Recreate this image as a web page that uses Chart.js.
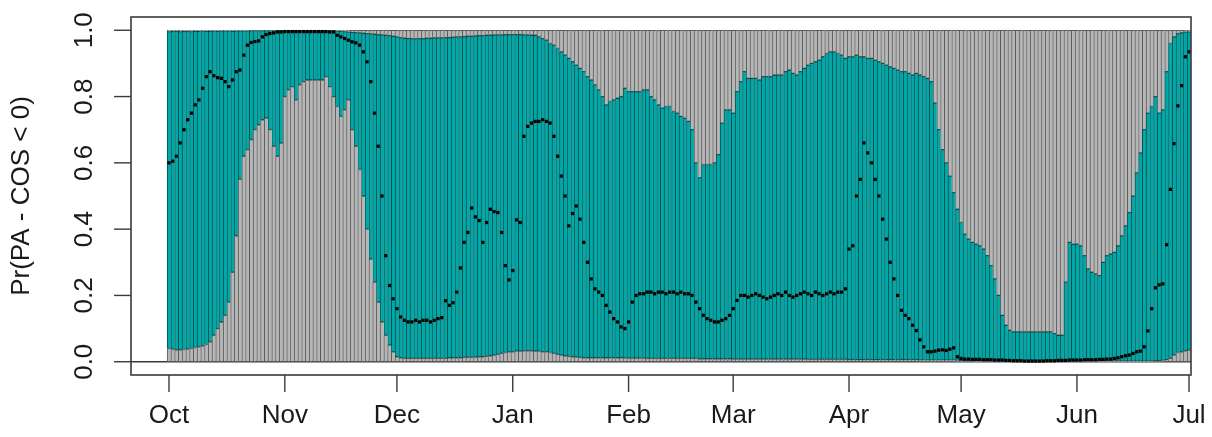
<!DOCTYPE html>
<html>
<head>
<meta charset="utf-8">
<script src="https://cdn.jsdelivr.net/npm/chart.js@4.4.1/dist/chart.umd.min.js"></script>
<style>
html,body{margin:0;padding:0;background:#fff;}
canvas{display:block;}
</style>
</head>
<body>
<canvas id="c" width="1212" height="437"></canvas>
<script>
// ---- data (one value per day, Oct 1 = day 0 ... Jul 1 = day 273) ----
const monthLabels = ['Oct','Nov','Dec','Jan','Feb','Mar','Apr','May','Jun','Jul'];
const monthDays   = [0,31,61,92,123,151,182,212,243,273];
const yTickValues = [0,0.2,0.4,0.6,0.8,1.0];
const yTickLabels = ['0.0','0.2','0.4','0.6','0.8','1.0'];
const yTitle = 'Pr(PA - COS < 0)';

// lower bound of the teal band
const lower = [
0.04,0.038,0.036,0.036,0.037,0.038,0.04,0.043,0.045,0.048,0.052,
0.06,0.08,0.1,0.12,0.14,0.18,0.27,0.38,0.55,0.62,
0.64,0.67,0.7,0.715,0.73,0.735,0.7,0.65,0.62,0.66,
0.8,0.82,0.83,0.79,0.835,0.845,0.85,0.85,0.85,0.85,
0.85,0.86,0.83,0.8,0.77,0.74,0.76,0.79,0.7,0.65,
0.58,0.5,0.4,0.31,0.24,0.18,0.12,0.08,0.05,0.03,
0.015,0.012,0.01,0.01,0.01,0.01,0.01,0.01,0.01,0.01,
0.01,0.01,0.01,0.01,0.012,0.012,0.012,0.012,0.013,0.013,
0.013,0.014,0.015,0.015,0.016,0.018,0.02,0.022,0.025,0.028,
0.03,0.03,0.032,0.032,0.033,0.033,0.033,0.032,0.032,0.03,
0.03,0.028,0.025,0.022,0.02,0.018,0.016,0.015,0.014,0.013,
0.012,0.012,0.012,0.012,0.012,0.012,0.012,0.012,0.012,0.012,
0.012,0.012,0.011,0.011,0.011,0.011,0.011,0.01,0.01,0.01,
0.01,0.01,0.01,0.01,0.01,0.01,0.01,0.01,0.01,0.01,
0.01,0.009,0.009,0.009,0.009,0.009,0.009,0.009,0.009,0.009,
0.008,0.008,0.008,0.008,0.008,0.008,0.008,0.008,0.008,0.008,
0.008,0.008,0.008,0.008,0.008,0.008,0.008,0.008,0.008,0.008,
0.007,0.007,0.007,0.007,0.007,0.007,0.007,0.007,0.007,0.007,
0.007,0.006,0.006,0.006,0.006,0.006,0.006,0.006,0.006,0.006,
0.006,0.006,0.006,0.006,0.006,0.006,0.006,0.006,0.006,0.006,
0.005,0.005,0.005,0.005,0.005,0.005,0.005,0.005,0.005,0.005,
0.004,0.003,0.003,0.003,0.003,0.002,0.002,0.002,0.002,0.002,
0.002,0.002,0.002,0.002,0.002,0.002,0.002,0.002,0.002,0.002,
0.002,0.002,0.002,0.002,0.002,0.002,0.002,0.002,0.002,0.002,
0.002,0.002,0.002,0.002,0.002,0.002,0.002,0.002,0.002,0.002,
0.002,0.002,0.002,0.002,0.002,0.002,0.002,0.002,0.002,0.002,
0.002,0.002,0.002,0.003,0.003,0.004,
0.006,0.01,0.02,0.028,0.03,0.033,0.035
];

// upper bound of the teal band
const upper = [
0.996,0.997,0.997,0.996,0.997,0.997,0.996,0.997,0.997,0.998,0.997,
0.997,0.998,0.997,0.998,0.998,0.998,0.997,0.998,0.998,0.998,
0.998,0.999,0.999,0.999,0.999,0.999,0.999,0.999,0.999,0.999,
0.999,0.999,0.999,0.999,0.999,0.999,0.999,0.999,0.999,0.999,
0.999,0.999,0.999,0.998,0.998,0.997,0.996,0.995,0.994,0.993,
0.992,0.991,0.99,0.989,0.988,0.987,0.986,0.985,0.984,0.982,
0.98,0.978,0.976,0.975,0.975,0.974,0.975,0.975,0.976,0.976,
0.977,0.977,0.977,0.978,0.978,0.979,0.98,0.98,0.981,0.982,
0.982,0.983,0.984,0.984,0.985,0.985,0.986,0.986,0.986,0.987,
0.987,0.987,0.987,0.987,0.986,0.986,0.985,0.985,0.98,0.975,
0.97,0.96,0.955,0.945,0.935,0.925,0.915,0.905,0.895,0.885,
0.875,0.86,0.85,0.835,0.82,0.8,0.775,0.785,0.79,0.795,
0.8,0.825,0.815,0.815,0.815,0.815,0.82,0.82,0.8,0.79,
0.775,0.765,0.77,0.77,0.755,0.75,0.74,0.735,0.725,0.7,
0.6,0.555,0.595,0.595,0.595,0.6,0.625,0.72,0.76,0.76,
0.75,0.815,0.845,0.875,0.855,0.855,0.855,0.85,0.86,0.86,
0.86,0.865,0.865,0.865,0.875,0.88,0.87,0.865,0.875,0.885,
0.895,0.9,0.905,0.91,0.92,0.93,0.935,0.935,0.93,0.925,
0.915,0.92,0.92,0.925,0.92,0.92,0.915,0.915,0.91,0.905,
0.9,0.895,0.89,0.885,0.88,0.875,0.875,0.87,0.865,0.87,
0.865,0.86,0.855,0.845,0.78,0.7,0.64,0.6,0.56,0.51,
0.46,0.42,0.385,0.37,0.36,0.355,0.35,0.34,0.32,0.29,
0.25,0.2,0.14,0.11,0.095,0.09,0.09,0.09,0.09,0.09,
0.09,0.09,0.09,0.09,0.09,0.09,0.085,0.08,0.08,0.24,
0.36,0.355,0.355,0.35,0.32,0.28,0.27,0.265,0.26,0.3,
0.32,0.325,0.33,0.35,0.38,0.41,0.45,0.5,0.57,0.63,
0.7,0.75,0.77,0.8,0.75,0.76,
0.875,0.96,0.98,0.99,0.992,0.995,0.995
];

// point estimate (black dots)
const estimate = [
0.6,0.605,0.62,0.66,0.7,0.73,0.75,0.775,0.79,0.825,0.86,
0.875,0.863,0.857,0.855,0.845,0.83,0.85,0.875,0.88,0.925,
0.955,0.963,0.966,0.968,0.98,0.987,0.99,0.992,0.995,0.995,
0.996,0.996,0.996,0.996,0.996,0.996,0.996,0.996,0.996,0.996,
0.996,0.996,0.995,0.995,0.985,0.98,0.975,0.97,0.965,0.962,
0.955,0.935,0.905,0.845,0.75,0.65,0.5,0.32,0.23,0.19,
0.16,0.135,0.125,0.12,0.12,0.125,0.12,0.125,0.125,0.12,
0.125,0.13,0.133,0.184,0.17,0.178,0.21,0.283,0.36,0.39,
0.464,0.437,0.426,0.36,0.42,0.46,0.453,0.45,0.39,0.29,
0.247,0.275,0.428,0.42,0.68,0.71,0.72,0.725,0.725,0.73,
0.725,0.72,0.68,0.62,0.56,0.5,0.41,0.447,0.47,0.43,
0.36,0.3,0.25,0.22,0.21,0.2,0.17,0.15,0.13,0.12,
0.105,0.1,0.12,0.18,0.2,0.205,0.205,0.21,0.21,0.205,
0.21,0.21,0.205,0.21,0.21,0.205,0.21,0.205,0.205,0.2,
0.18,0.16,0.14,0.13,0.125,0.12,0.12,0.125,0.13,0.14,
0.16,0.185,0.2,0.2,0.195,0.2,0.205,0.2,0.195,0.19,
0.195,0.2,0.205,0.2,0.21,0.2,0.195,0.2,0.205,0.21,
0.205,0.2,0.21,0.205,0.2,0.205,0.21,0.205,0.21,0.21,
0.22,0.34,0.35,0.5,0.55,0.66,0.63,0.6,0.55,0.5,
0.43,0.37,0.3,0.25,0.2,0.155,0.14,0.13,0.11,0.094,
0.066,0.045,0.03,0.03,0.032,0.035,0.036,0.034,0.038,0.042,
0.015,0.01,0.008,0.008,0.007,0.007,0.007,0.006,0.006,0.006,
0.005,0.005,0.005,0.004,0.004,0.003,0.003,0.003,0.002,0.002,
0.002,0.002,0.002,0.002,0.003,0.003,0.003,0.004,0.004,0.004,
0.005,0.005,0.005,0.005,0.006,0.006,0.006,0.006,0.007,0.007,
0.008,0.008,0.01,0.012,0.015,0.018,0.02,0.025,0.03,0.032,
0.045,0.093,0.16,0.223,0.232,0.235,
0.353,0.52,0.658,0.772,0.833,0.92,0.935
];

// ---- chart ----
const FONT = '"Liberation Sans", Arial, Helvetica, sans-serif';
const TEXT = '#1a1a1a';
const LINE = '#3a3a3a';

const rAxes = {
  id: 'rAxes',
  beforeDatasetsDraw(chart) {
    const {ctx, chartArea: a, scales: {y}} = chart;
    const y0 = y.getPixelForValue(0);
    ctx.save();
    ctx.strokeStyle = LINE; ctx.lineWidth = 1.4;
    ctx.beginPath(); ctx.moveTo(a.left, y0); ctx.lineTo(a.right, y0); ctx.stroke();
    ctx.restore();
  },
  afterDatasetsDraw(chart) {
    const {ctx, chartArea: a, scales: {x, y}} = chart;
    ctx.save();
    ctx.strokeStyle = LINE; ctx.lineWidth = 1.6;
    ctx.strokeRect(a.left, a.top, a.right - a.left, a.bottom - a.top);
    ctx.lineWidth = 1.4;
    ctx.fillStyle = TEXT;
    ctx.font = '26px ' + FONT;
    yTickValues.forEach((v, i) => {
      const py = y.getPixelForValue(v);
      ctx.beginPath(); ctx.moveTo(a.left - 17, py); ctx.lineTo(a.left, py); ctx.stroke();
      ctx.save();
      ctx.translate(a.left - 46, py);
      ctx.rotate(-Math.PI / 2);
      ctx.textAlign = 'center'; ctx.textBaseline = 'middle';
      ctx.fillText(yTickLabels[i], 0, 0);
      ctx.restore();
    });
    monthDays.forEach((d, i) => {
      const px = x.getPixelForValue(d);
      ctx.beginPath(); ctx.moveTo(px, a.bottom); ctx.lineTo(px, a.bottom + 17); ctx.stroke();
      ctx.textAlign = 'center'; ctx.textBaseline = 'middle';
      ctx.fillText(monthLabels[i], px, a.bottom + 41);
    });
    ctx.save();
    ctx.translate(22, (a.top + a.bottom) / 2);
    ctx.rotate(-Math.PI / 2);
    ctx.textAlign = 'center'; ctx.textBaseline = 'middle';
    ctx.fillText(yTitle, 0, 0);
    ctx.restore();
    ctx.restore();
  }
};

const barCommon = {
  type: 'bar',
  grouped: false,
  barPercentage: 1,
  categoryPercentage: 1,
  borderSkipped: false,
  borderWidth: {left: 1, right: 0, top: 1, bottom: 1},
  order: 2
};

new Chart(document.getElementById('c'), {
  type: 'bar',
  data: {
    datasets: [
      Object.assign({}, barCommon, {
        label: 'below',
        data: lower.map((v, i) => ({x: i, y: [0, v]})),
        backgroundColor: '#b6b6b6', borderColor: '#5a5a5a'
      }),
      Object.assign({}, barCommon, {
        label: 'band',
        data: lower.map((v, i) => ({x: i, y: [v, upper[i]]})),
        backgroundColor: '#00a8a8', borderColor: '#005050'
      }),
      Object.assign({}, barCommon, {
        label: 'above',
        data: upper.map((v, i) => ({x: i, y: [v, 1]})),
        backgroundColor: '#b6b6b6', borderColor: '#5a5a5a'
      }),
      {
        type: 'scatter',
        label: 'estimate',
        data: estimate.map((v, i) => ({x: i, y: v})),
        backgroundColor: '#000', borderColor: '#000',
        pointRadius: 2.3, pointBorderWidth: 0, pointStyle: 'rect',
        order: 0
      }
    ]
  },
  options: {
    responsive: false,
    animation: false,
    events: [],
    layout: {padding: {left: 131, right: 21, top: 17, bottom: 62}},
    plugins: {legend: {display: false}, tooltip: {enabled: false}},
    scales: {
      x: {type: 'linear', offset: false, min: -10.17, max: 273.53, display: false},
      y: {type: 'linear', min: -0.04, max: 1.04, display: false}
    }
  },
  plugins: [rAxes]
});
</script>
</body>
</html>
